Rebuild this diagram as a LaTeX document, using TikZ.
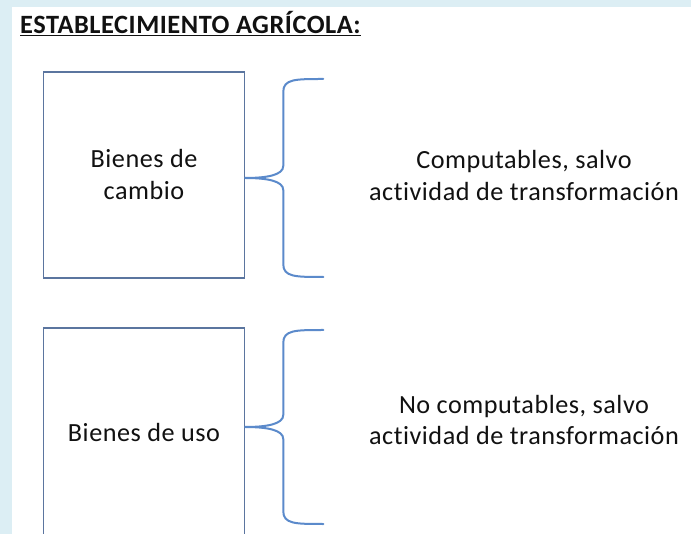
\documentclass[tikz,border=0pt]{standalone}
\usepackage{fontspec}
\setmainfont{Carlito}[LetterSpace=2, Ligatures=NoCommon]
\usepackage{tikz}
\usetikzlibrary{positioning, calc}
\usepackage{xcolor}
\definecolor{fondo}{HTML}{DCEEF4}
\definecolor{borde}{HTML}{5B759F}
\definecolor{azul}{HTML}{5B8ACB}
\definecolor{letra}{HTML}{111111}
% llave: punta en #1, media altura #2
\newcommand{\Llave}[2]{%
  \draw[llave] (#1) .. controls +(22,0) and +(0,-9) .. ++(38,12)
    -- ++(0,{#2-25}) .. controls +(0,13) and +(-28,0) .. ++(40,13);
  \draw[llave] (#1) .. controls +(22,0) and +(0,9) .. ++(38,-12)
    -- ++(0,{-(#2-25)}) .. controls +(0,-13) and +(-28,0) .. ++(40,-13);
}

\begin{document}
\begin{tikzpicture}[
  x=1pt, y=-1pt,
  every node/.style={font=\fontsize{26.2}{32}\selectfont, text=letra},
  caja/.style={draw=borde, line width=1.5pt, minimum width=201pt,
               align=center, inner sep=0pt},
  texto/.style={align=center, inner sep=0pt},
  titulo/.style={font=\fontsize{26.4}{30}\selectfont\bfseries, inner sep=0pt},
  llave/.style={draw=azul, line width=2pt, line cap=round}
]
\useasboundingbox (0,0) rectangle (691,534);
\clip (0,0) rectangle (691,534);
% fondo
\fill[fondo] (0,0) rectangle (691,534);
\fill[white] (12,7) rectangle (691,534);

% titulo
\node[titulo, anchor=base west] (tit) at (20,34) {\underline{ESTABLECIMIENTO AGRÍCOLA:}};

% cajas
\node[caja, minimum height=206pt] (cambio) at (144,175) {Bienes de\\cambio};
\node[caja, minimum height=210pt] (uso) at (144,433) {Bienes de uso};

% puntas de las llaves
\coordinate (p1) at (cambio.east |- 0,178);
\coordinate (p2) at (uso.east |- 0,427);
\Llave{p1}{99}
\Llave{p2}{97}

% textos
\node[texto] (comp) at (524,176) {Computables, salvo\\actividad de transformación};
\node[texto] (nocomp) at (524,420) {No computables, salvo\\actividad de transformación};
\end{tikzpicture}
\end{document}
